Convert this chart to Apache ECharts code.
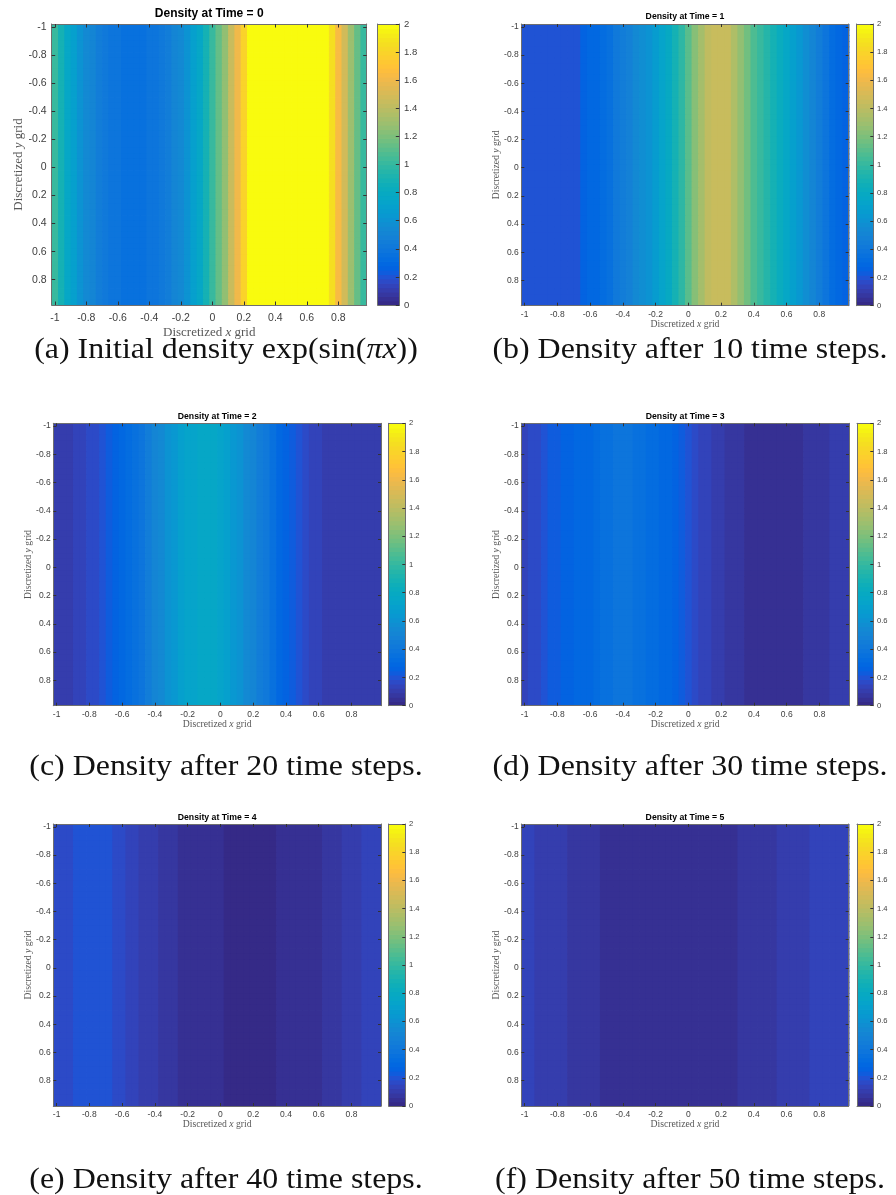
<!DOCTYPE html>
<html>
<head>
<meta charset="utf-8">
<script src="https://cdn.jsdelivr.net/npm/echarts@6/dist/echarts.min.js"></script>
<style>
  html, body { margin: 0; padding: 0; background: #ffffff; }
  #chart { width: 896px; height: 1195px; }
</style>
</head>
<body>
<div id="chart"></div>
<script>
// Density along x for each snapshot (the field is uniform in y), 50 grid cells per row.
const DENSITY_T0 = [1.00, 0.88, 0.78, 0.69, 0.62, 0.56, 0.50, 0.46, 0.43, 0.40,
                    0.39, 0.37, 0.37, 0.37, 0.37, 0.39, 0.40, 0.43, 0.46, 0.50,
                    0.56, 0.62, 0.69, 0.78, 0.88, 1.00, 1.13, 1.28, 1.45, 1.62,
                    1.80, 1.98, 2.16, 2.33, 2.47, 2.59, 2.67, 2.71, 2.71, 2.67,
                    2.59, 2.47, 2.33, 2.16, 1.85, 1.65, 1.47, 1.30, 1.15, 1.02];
const DENSITY_T1 = [0.20, 0.20, 0.20, 0.19, 0.19, 0.19, 0.20, 0.20, 0.21, 0.27,
                    0.30, 0.31, 0.33, 0.36, 0.42, 0.45, 0.49, 0.55, 0.58, 0.61,
                    0.67, 0.74, 0.80, 0.89, 0.98, 1.10, 1.22, 1.33, 1.42, 1.45,
                    1.46, 1.45, 1.36, 1.26, 1.16, 1.09, 1.01, 0.95, 0.88, 0.82,
                    0.76, 0.70, 0.64, 0.58, 0.52, 0.46, 0.40, 0.34, 0.30, 0.27];
const DENSITY_T2 = [0.100, 0.105, 0.115, 0.130, 0.145, 0.165, 0.180, 0.200, 0.225, 0.250,
                    0.290, 0.320, 0.360, 0.400, 0.450, 0.500, 0.550, 0.600, 0.650, 0.690,
                    0.720, 0.745, 0.760, 0.765, 0.755, 0.720, 0.690, 0.650, 0.610, 0.560,
                    0.510, 0.460, 0.410, 0.360, 0.310, 0.270, 0.230, 0.200, 0.170, 0.150,
                    0.130, 0.115, 0.105, 0.100, 0.095, 0.095, 0.095, 0.095, 0.100, 0.100];
const DENSITY_T3 = [0.140, 0.160, 0.180, 0.200, 0.225, 0.245, 0.260, 0.275, 0.290, 0.300,
                    0.310, 0.330, 0.345, 0.360, 0.380, 0.385, 0.380, 0.365, 0.350, 0.335,
                    0.315, 0.300, 0.285, 0.260, 0.230, 0.200, 0.175, 0.150, 0.130, 0.110,
                    0.100, 0.090, 0.080, 0.070, 0.060, 0.055, 0.050, 0.048, 0.047, 0.047,
                    0.049, 0.053, 0.058, 0.065, 0.072, 0.080, 0.088, 0.095, 0.105, 0.115];
const DENSITY_T4 = [0.165, 0.170, 0.180, 0.190, 0.200, 0.210, 0.210, 0.205, 0.195, 0.180,
                    0.165, 0.150, 0.135, 0.120, 0.110, 0.100, 0.090, 0.080, 0.070, 0.060,
                    0.055, 0.050, 0.045, 0.040, 0.037, 0.033, 0.030, 0.028, 0.026, 0.025,
                    0.025, 0.026, 0.028, 0.030, 0.033, 0.036, 0.040, 0.045, 0.050, 0.055,
                    0.060, 0.067, 0.078, 0.090, 0.100, 0.110, 0.120, 0.130, 0.140, 0.150];
const DENSITY_T5 = [0.135, 0.128, 0.120, 0.115, 0.110, 0.100, 0.097, 0.090, 0.085, 0.078,
                    0.072, 0.066, 0.061, 0.058, 0.055, 0.052, 0.050, 0.048, 0.046, 0.045,
                    0.044, 0.043, 0.043, 0.043, 0.044, 0.045, 0.046, 0.048, 0.050, 0.052,
                    0.055, 0.058, 0.061, 0.065, 0.070, 0.075, 0.080, 0.086, 0.092, 0.097,
                    0.103, 0.109, 0.115, 0.120, 0.126, 0.130, 0.134, 0.138, 0.140, 0.140];

const SNAPSHOTS = [DENSITY_T0, DENSITY_T1, DENSITY_T2, DENSITY_T3, DENSITY_T4, DENSITY_T5];
const TITLES = ['Density at Time = 0', 'Density at Time = 1', 'Density at Time = 2',
                'Density at Time = 3', 'Density at Time = 4', 'Density at Time = 5'];
const CAPTIONS = ['(a) Initial density exp(sin({m|πx}))',
                  '(b) Density after 10 time steps.',
                  '(c) Density after 20 time steps.',
                  '(d) Density after 30 time steps.',
                  '(e) Density after 40 time steps.',
                  '(f) Density after 50 time steps.'];
const AXIS_TICKS = [-1, -0.8, -0.6, -0.4, -0.2, 0, 0.2, 0.4, 0.6, 0.8];
const GRID_EXTENT = [-1.02, 0.98];   // cell edges of the 50-point grid
const COLOR_LIMITS = [0, 2];
const COLORBAR_STEP = 0.2;

// 64-entry parula colormap
const PARULA = ['#352a87','#363093','#3637a0','#353dad','#3243ba','#2c4ac7','#2053d4','#0f5cdd',
  '#0363e1','#0268e1','#046de0','#0871de','#0d75dc','#1079da','#127dd8','#1481d6',
  '#1485d4','#1389d3','#108ed2','#0c93d2','#0998d1','#079ccf','#06a0cd','#06a4ca',
  '#06a7c6','#07a9c2','#0aacbe','#0faeb9','#15b1b4','#1db3af','#25b5a9','#2eb7a4',
  '#38b99e','#42bb98','#4dbc92','#59bd8c','#65be86','#71bf80','#7cbf7b','#87bf77',
  '#92bf73','#9cbf6f','#a5be6b','#aebe67','#b7bd64','#c0bc60','#c8bc5d','#d1bb59',
  '#d9ba56','#e1b952','#e9b94e','#f1b94a','#f8bb44','#fdbe3d','#ffc337','#fec832',
  '#fcce2e','#fad32a','#f7d826','#f5de21','#f5e41d','#f5eb18','#f6f313','#f9fb0e'];

// ---- layout (pixels) ----
const PANELS = [
  { plot: [51.7, 24, 315, 281],      cbLeft: 377.7, cbWidth: 21.6, titleY: 14,    look: 'large' },
  { plot: [521.3, 24, 327.4, 281.7], cbLeft: 856.7, cbWidth: 16.6, titleY: 16.7,  look: 'small' },
  { plot: [53.3, 423.3, 327.7, 282.4], cbLeft: 388.7, cbWidth: 16.6, titleY: 416.7, look: 'small' },
  { plot: [521.3, 423.3, 327.7, 282.4], cbLeft: 857, cbWidth: 16.3, titleY: 416.7, look: 'small' },
  { plot: [53.3, 824, 327.7, 282],   cbLeft: 388.7, cbWidth: 16.6, titleY: 817.3, look: 'small' },
  { plot: [521.3, 824, 327.4, 282],  cbLeft: 857, cbWidth: 16.3, titleY: 817.3, look: 'small' }
];
const CAPTION_X = [226, 690];
const CAPTION_Y = [350, 767, 1180];

const LOOKS = {
  large: { tick: 10.5, cbTick: 9.5, title: 12, name: 13, nameGapX: 21, nameGapY: 27,
           xLabelMargin: 7.5, yLabelMargin: 5, cbMargin: 4.7, tickLen: 3.5 },
  small: { tick: 8.5, cbTick: 7.6, title: 8.7, name: 9.7, nameGapX: 13.8, nameGapY: 19.5,
           xLabelMargin: 4, yLabelMargin: 2.6, cbMargin: 3.7, tickLen: 3 }
};
const FRAME_COLOR = '#6f6f6f';
const LABEL_COLOR = '#404040';
const NAME_COLOR = '#585858';
const SANS = 'Liberation Sans, Arial, sans-serif';
const SERIF = 'Liberation Serif, Times New Roman, serif';

const cellIndex = SNAPSHOTS[0].map((_, k) => k);
const nLevels = PARULA.length;
const levelValues = PARULA.map((_, i) =>
  COLOR_LIMITS[0] + (i + 0.5) * (COLOR_LIMITS[1] - COLOR_LIMITS[0]) / nLevels);
const step = (COLOR_LIMITS[1] - COLOR_LIMITS[0]) / nLevels;
const pieces = PARULA.map((color, i) => {
  const p = { color };
  if (i > 0) p.gte = COLOR_LIMITS[0] + i * step;
  if (i < nLevels - 1) p.lt = COLOR_LIMITS[0] + (i + 1) * step;
  return p;
});

const grid = [], xAxis = [], yAxis = [], series = [], graphic = [];
const fmt = v => String(Math.round(v * 10) / 10);

// Image cells: one rect per (column, row) band, slightly overlapped so neighbours leave no seams.
function renderCell(params, api) {
  const c = api.coord([api.value(0), api.value(1)]);
  const s = api.size([1, 1]);
  const w = Math.abs(s[0]), h = Math.abs(s[1]);
  return {
    type: 'rect',
    shape: { x: c[0] - w / 2, y: c[1] - h / 2, width: w + 0.8, height: h + 0.8 },
    style: { fill: api.visual('color') }
  };
}

function frameAxis(gridIndex, position, S, showLabels, name) {
  const horizontal = position === 'bottom' || position === 'top';
  const ax = {
    type: 'value', gridIndex, position, z: 10,
    min: GRID_EXTENT[0], max: GRID_EXTENT[1],
    inverse: !horizontal,
    axisLine: { show: true, onZero: false, lineStyle: { color: FRAME_COLOR, width: 1 } },
    axisTick: { show: true, inside: true, length: S.tickLen, customValues: AXIS_TICKS,
                lineStyle: { color: '#333333', width: 1 } },
    axisLabel: { show: showLabels, customValues: AXIS_TICKS, formatter: fmt,
                 margin: horizontal ? S.xLabelMargin : S.yLabelMargin,
                 fontFamily: SANS, fontSize: S.tick, color: LABEL_COLOR },
    splitLine: { show: false }
  };
  if (name) {
    Object.assign(ax, {
      name, nameLocation: 'middle', nameMoveOverlap: false,
      nameGap: horizontal ? S.nameGapX : S.nameGapY,
      nameTextStyle: {
        fontFamily: SERIF, fontSize: S.name, color: NAME_COLOR,
        rich: { m: { fontFamily: SERIF, fontStyle: 'italic', fontSize: S.name, color: NAME_COLOR } }
      }
    });
  }
  return ax;
}

function plainLine(type, gridIndex, position, data) {
  return {
    type, gridIndex, position, data, z: 10,
    axisLine: { show: true, onZero: false, lineStyle: { color: FRAME_COLOR, width: 1 } },
    axisTick: { show: false }, axisLabel: { show: false }, splitLine: { show: false }
  };
}

SNAPSHOTS.forEach((density, p) => {
  const P = PANELS[p], S = LOOKS[P.look];
  const [gl, gt, gw, gh] = P.plot;

  // image axes
  const gPlot = grid.length;
  grid.push({ left: gl, top: gt, width: gw, height: gh, outerBoundsMode: 'none' });
  const xCat = xAxis.length;
  xAxis.push({ type: 'category', gridIndex: gPlot, data: cellIndex, show: false });
  xAxis.push(frameAxis(gPlot, 'bottom', S, true, 'Discretized {m|x} grid'));
  xAxis.push(frameAxis(gPlot, 'top', S, false));
  const yCat = yAxis.length;
  yAxis.push({ type: 'category', gridIndex: gPlot, data: cellIndex, show: false, inverse: true });
  yAxis.push(frameAxis(gPlot, 'left', S, true, 'Discretized {m|y} grid'));
  yAxis.push(frameAxis(gPlot, 'right', S, false));

  const cells = [];
  cellIndex.forEach(j => density.forEach((v, k) => cells.push([k, j, v])));
  series.push({
    type: 'custom', xAxisIndex: xCat, yAxisIndex: yCat, data: cells,
    encode: { x: 0, y: 1 }, renderItem: renderCell, clip: true, silent: true
  });

  // colorbar
  const gBar = grid.length;
  grid.push({ left: P.cbLeft, top: gt, width: P.cbWidth, height: gh, outerBoundsMode: 'none' });
  const xBar = xAxis.length;
  xAxis.push(plainLine('category', gBar, 'bottom', ['']));
  xAxis.push(plainLine('category', gBar, 'top', ['']));
  const yBar = yAxis.length;
  yAxis.push(plainLine('category', gBar, 'left', levelValues.map((_, i) => i)));
  yAxis.push({
    type: 'value', gridIndex: gBar, position: 'right', z: 10,
    min: COLOR_LIMITS[0], max: COLOR_LIMITS[1], interval: COLORBAR_STEP,
    axisLine: { show: true, onZero: false, lineStyle: { color: FRAME_COLOR, width: 1 } },
    axisTick: { show: true, inside: true, length: S.tickLen, lineStyle: { color: '#333333' } },
    axisLabel: { show: true, margin: S.cbMargin, formatter: fmt,
                 fontFamily: SANS, fontSize: S.cbTick, color: LABEL_COLOR },
    splitLine: { show: false }
  });
  series.push({
    type: 'custom', xAxisIndex: xBar, yAxisIndex: yBar,
    data: levelValues.map((v, i) => [0, i, v]),
    encode: { x: 0, y: 1 }, renderItem: renderCell, clip: true, silent: true
  });

  // panel title
  graphic.push({
    type: 'text', x: gl + gw / 2, y: P.titleY, z: 20,
    style: {
      text: TITLES[p], fontFamily: SANS, fontWeight: 'bold', fontSize: S.title, fill: '#000000',
      align: 'center', verticalAlign: 'middle', textAlign: 'center', textVerticalAlign: 'middle'
    }
  });

  // caption under the panel
  graphic.push({
    type: 'text', x: CAPTION_X[p % 2], y: CAPTION_Y[Math.floor(p / 2)], z: 20, scaleX: 1.1,
    style: {
      text: CAPTIONS[p], fontFamily: SERIF, fontSize: 29, fill: '#111111',
      align: 'center', verticalAlign: 'middle', textAlign: 'center', textVerticalAlign: 'middle',
      rich: { m: { fontFamily: SERIF, fontStyle: 'italic', fontSize: 29, fill: '#111111' } }
    }
  });
});

const chart = echarts.init(document.getElementById('chart'), null, { renderer: 'canvas', width: 896, height: 1195 });
chart.setOption({
  animation: false,
  backgroundColor: '#ffffff',
  grid, xAxis, yAxis, series, graphic,
  visualMap: {
    type: 'piecewise', show: false, dimension: 2,
    seriesIndex: series.map((_, i) => i),
    pieces
  }
});
</script>
</body>
</html>
